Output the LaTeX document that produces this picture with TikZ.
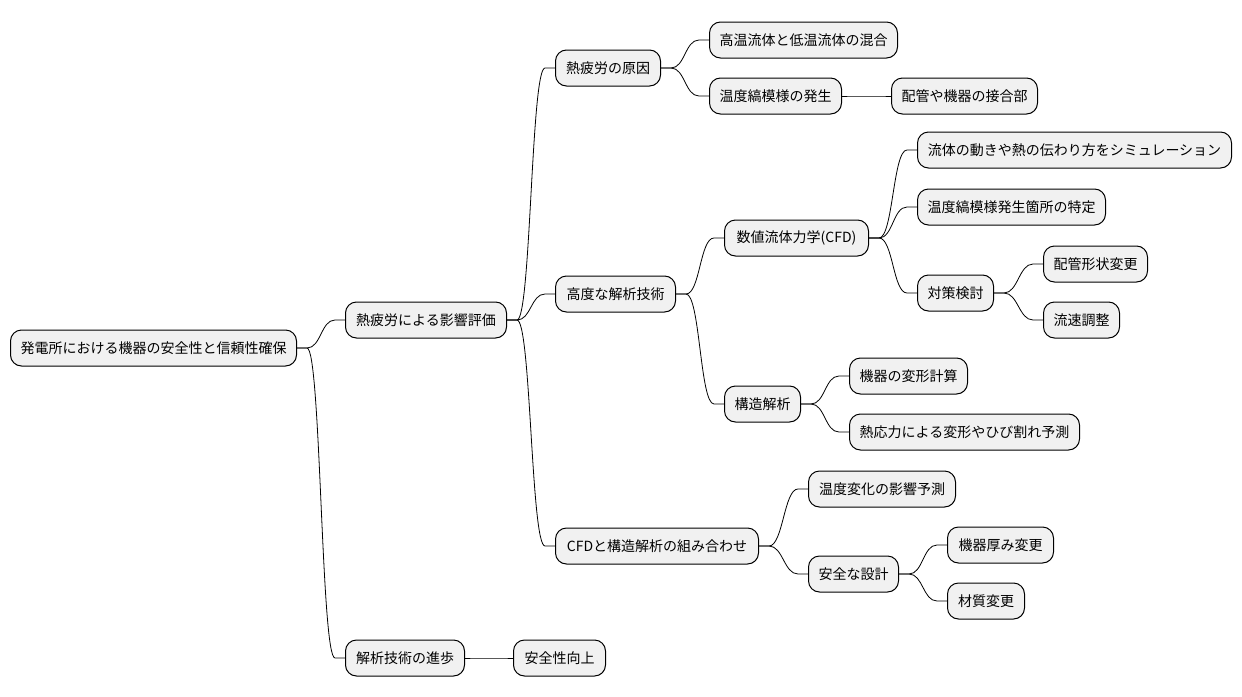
\documentclass[tikz,border=0pt]{standalone}
\usepackage{fontspec}
\setmainfont{Noto Sans CJK JP}
\usetikzlibrary{calc}
\definecolor{boxfill}{HTML}{F1F1F1}
\tikzset{
  mm/.style={draw=black, line width=1pt, fill=boxfill, rounded corners=11pt,
    minimum height=36pt, inner xsep=10pt, inner ysep=0pt, anchor=west,
    font=\fontsize{14pt}{16pt}\selectfont},
  link/.style={draw=black, line width=0.8pt}
}
\newcommand{\conn}[2]{%
  \draw[link] (#1.east) -- ++(10,0) .. controls +(14,0) and +(-14,0) .. ($(#2.west)+(-10,0)$) -- (#2.west);}
\begin{document}
\begin{tikzpicture}[x=1pt,y=-1pt]
\useasboundingbox (0,0) rectangle (1242,696);
\node[mm, minimum width=286pt] (root) at (10,348) {発電所における機器の安全性と信頼性確保};
\node[mm, minimum width=161pt] (a) at (345,320) {熱疲労による影響評価};
\node[mm, minimum width=119pt] (b) at (345,658) {解析技術の進歩};
\node[mm, minimum width=105pt] (a1) at (555,68) {熱疲労の原因};
\node[mm, minimum width=120pt] (a2) at (555,294) {高度な解析技術};
\node[mm, minimum width=203pt] (a3) at (555,546) {CFDと構造解析の組み合わせ};
\node[mm, minimum width=187pt] (a11) at (709,40) {高温流体と低温流体の混合};
\node[mm, minimum width=131pt] (a12) at (709,96) {温度縞模様の発生};
\node[mm, minimum width=145pt] (a121) at (891,96) {配管や機器の接合部};
\node[mm, minimum width=144pt] (a21) at (724,238) {数値流体力学(CFD)};
\node[mm, minimum width=75pt] (a22) at (724,404) {構造解析};
\node[mm, minimum width=314pt] (a211) at (917,150) {流体の動きや熱の伝わり方をシミュレーション};
\node[mm, minimum width=188pt] (a212) at (917,207) {温度縞模様発生箇所の特定};
\node[mm, minimum width=76pt] (a213) at (917,293) {対策検討};
\node[mm, minimum width=104pt] (a2131) at (1043,264) {配管形状変更};
\node[mm, minimum width=75pt] (a2132) at (1043,320) {流速調整};
\node[mm, minimum width=118pt] (a221) at (849,376) {機器の変形計算};
\node[mm, minimum width=230pt] (a222) at (849,432) {熱応力による変形やひび割れ予測};
\node[mm, minimum width=147pt] (a31) at (808,489) {温度変化の影響予測};
\node[mm, minimum width=89pt] (a32) at (808,574) {安全な設計};
\node[mm, minimum width=106pt] (a321) at (947,545) {機器厚み変更};
\node[mm, minimum width=77pt] (a322) at (947,601) {材質変更};
\node[mm, minimum width=92pt] (b1) at (513,658) {安全性向上};
\conn{root}{a}
\conn{root}{b}
\conn{a}{a1}
\conn{a}{a2}
\conn{a}{a3}
\conn{a1}{a11}
\conn{a1}{a12}
\conn{a12}{a121}
\conn{a2}{a21}
\conn{a2}{a22}
\conn{a21}{a211}
\conn{a21}{a212}
\conn{a21}{a213}
\conn{a213}{a2131}
\conn{a213}{a2132}
\conn{a22}{a221}
\conn{a22}{a222}
\conn{a3}{a31}
\conn{a3}{a32}
\conn{a32}{a321}
\conn{a32}{a322}
\conn{b}{b1}
\end{tikzpicture}
\end{document}
